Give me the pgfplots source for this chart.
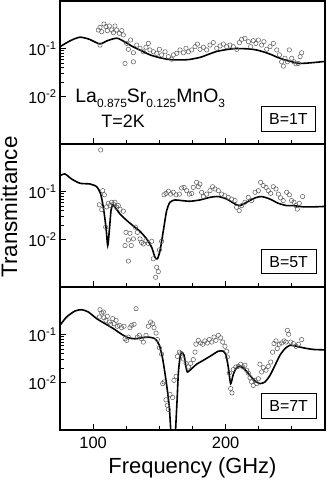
\documentclass[border=0pt]{standalone}
\usepackage{fontspec}
\setmainfont{Liberation Sans}
\usepackage{pgfplots}
\pgfplotsset{compat=1.18}

\pgfplotsset{
  tpanel/.style={
    scale only axis, width=265bp, height=143bp,
    xmin=75, xmax=275, ymin=0.001, ymax=1,
    axis line style={line width=1.2bp},
    tick align=inside, xtick pos=left, ytick pos=left,
    xtick={100,200}, minor xtick={125,150,175,225,250},
    xticklabels={}, major tick length=6bp, minor tick length=4bp,
    tick style={line width=0.9bp, black},
    ytick={0.01,0.1}, minor ytick={},
    yticklabels={10\textsuperscript{-2},10\textsuperscript{-1}},
    yticklabel style={font=\fontsize{16}{16}\selectfont},
  },
}
\tikzset{
  tpts/.style={only marks, mark=o, mark size=2.2bp,
    mark options={draw=black!65, fill=white, line width=0.5bp}},
  tfit/.style={no marks, black, line width=1.6bp, smooth, tension=0.4},
  tlbl/.style={draw=black, line width=0.7bp, fill=white, inner xsep=8bp,
    inner ysep=6.5bp, text height=11.5bp, text depth=0bp,
    font=\fontsize{16}{16}\selectfont},
}

\begin{document}
\begin{tikzpicture}
% B = 1 T
\begin{semilogyaxis}[tpanel, name=p1]
\addplot[tpts] coordinates {
(103.9,0.246) (105.2,0.280) (106.5,0.227) (108.2,0.329) (109.7,0.290) (110.7,0.239)
(112.2,0.299) (114.0,0.246) (115.3,0.217) (116.5,0.299) (117.8,0.246) (119.8,0.210)
(121.6,0.239) (122.8,0.194) (105.2,0.119) (124.1,0.049) (130.4,0.053) (125.3,0.129)
(126.6,0.097) (128.3,0.152) (130.4,0.082) (132.9,0.119) (135.4,0.102) (137.9,0.086)
(139.9,0.107) (141.7,0.129) (142.9,0.094) (145.5,0.086) (148.0,0.080) (150.0,0.097)
(151.7,0.074) (154.3,0.086) (156.8,0.068) (159.3,0.060) (160.6,0.074) (163.1,0.080)
(165.6,0.094) (168.1,0.082) (170.1,0.102) (171.9,0.086) (174.4,0.094) (176.9,0.110)
(178.7,0.125) (180.7,0.097) (183.2,0.107) (185.7,0.094) (188.2,0.119) (190.7,0.134)
(193.3,0.102) (195.8,0.114) (198.3,0.125) (200.8,0.110) (203.3,0.119) (205.8,0.110)
(208.4,0.097) (210.4,0.134) (212.1,0.157) (214.6,0.165) (217.2,0.140) (218.9,0.110)
(220.9,0.147) (222.9,0.129) (224.7,0.152) (227.2,0.119) (228.9,0.140) (231.0,0.097)
(233.5,0.110) (236.0,0.129) (238.6,0.094) (240.6,0.074) (242.3,0.053) (243.6,0.043)
(244.8,0.063) (246.6,0.053) (248.1,0.094) (249.9,0.063) (251.6,0.053) (253.1,0.048)
(254.9,0.049) (256.2,0.068) (257.4,0.082)
};
\addplot[tfit] coordinates {
(75,0.110) (83,0.148) (90,0.174) (97,0.158) (105,0.126) (111,0.148) (118,0.166)
(124,0.138) (130,0.110) (137,0.089) (143,0.074) (150,0.065) (156,0.060) (163,0.058)
(172,0.059) (181,0.066) (187,0.076) (193,0.087) (200,0.095) (206,0.100) (213,0.100)
(219,0.098) (224,0.093) (229,0.085) (234,0.076) (239,0.066) (244,0.059) (249,0.054)
(256,0.049) (266,0.051) (275,0.054)
};
\node[anchor=base west, font=\fontsize{19.5}{19.5}\selectfont] at (axis description cs:0.045,0.287)
  {La\raisebox{-5bp}{\fontsize{12}{12}\selectfont 0.875}Sr\raisebox{-5bp}{\fontsize{12}{12}\selectfont 0.125}MnO\raisebox{-5bp}{\fontsize{12}{12}\selectfont 3}};
\node[font=\fontsize{18}{18}\selectfont] at (axis description cs:0.238,0.161) {T=2K};
\node[tlbl] at (axis description cs:0.862,0.175) {B=1T};
\end{semilogyaxis}

% B = 5 T
\begin{semilogyaxis}[tpanel, name=p2, at={(p1.south west)}, anchor=north west,
  ylabel={Transmittance},
  ylabel style={at={(axis description cs:-0.192,0.56)}, anchor=center,
    font=\fontsize{22.5}{22.5}\selectfont}]
\addplot[tpts] coordinates {
(105.7,0.75) (107.2,0.105) (108.5,0.086) (104.7,0.053) (106.5,0.042) (109.5,0.018)
(110.2,0.048) (111.5,0.057) (112.7,0.051) (114.0,0.060) (115.3,0.055) (116.5,0.060)
(117.8,0.047) (119.0,0.051) (120.3,0.043) (122.8,0.039) (124.8,0.014) (127.8,0.0134)
(124.1,0.0074) (126.6,0.0097) (128.8,0.0074) (126.6,0.0035) (130.4,0.0102) (131.9,0.018)
(133.4,0.014) (135.4,0.0102) (136.6,0.0086) (137.9,0.0080) (139.9,0.0094) (141.7,0.0082)
(144.2,0.0091) (145.4,0.0039) (148.0,0.0026) (149.2,0.0021) (147.2,0.0016) (150.0,0.0060)
(151.7,0.0091) (153.5,0.086) (155.0,0.092) (156.8,0.102) (158.5,0.089) (160.5,0.097)
(162.6,0.086) (165.1,0.089) (166.8,0.119) (168.6,0.123) (170.6,0.105) (172.6,0.089)
(174.4,0.092) (175.6,0.123) (178.1,0.157) (179.4,0.127) (180.6,0.145) (181.9,0.097)
(183.2,0.079) (185.7,0.089) (188.2,0.105) (190.2,0.127) (192.0,0.114) (194.5,0.105)
(197.0,0.089) (199.5,0.082) (202.0,0.076) (204.5,0.070) (207.1,0.065) (208.3,0.047)
(210.3,0.040) (212.1,0.051) (214.6,0.060) (217.1,0.076) (219.6,0.065) (222.2,0.097)
(224.7,0.105) (226.4,0.157) (228.4,0.134) (230.5,0.123) (232.2,0.105) (234.0,0.092)
(236.0,0.127) (238.0,0.114) (239.8,0.089) (241.5,0.074) (243.5,0.065) (246.1,0.097)
(248.1,0.086) (249.8,0.065) (251.6,0.060) (253.1,0.051) (254.1,0.043) (255.6,0.057)
(258.1,0.079)
};
\addplot[tfit] coordinates {
(75,0.217) (78.8,0.235) (83.8,0.184) (90.1,0.150) (97.6,0.145) (102.7,0.127)
(105.7,0.089) (107.7,0.047) (109.7,0.018) (111.0,0.0074) (112.2,0.015) (113.5,0.040)
(114.8,0.053) (116.5,0.047) (120.3,0.034) (125.3,0.025) (130.4,0.019) (135.4,0.0147)
(140.4,0.0102) (144.2,0.0068) (146.7,0.0042) (148.5,0.0039) (150.5,0.0058) (153.0,0.0152)
(155.5,0.040) (158.0,0.060) (161.8,0.067) (166.8,0.065) (173.1,0.063) (180.6,0.067)
(188.2,0.076) (194.5,0.079) (200.8,0.070) (207.1,0.055) (210.8,0.051) (215.9,0.060)
(222.2,0.074) (227.2,0.079) (233.5,0.070) (239.8,0.057) (246.1,0.051) (251.1,0.051)
(258.6,0.048) (266.2,0.048) (275,0.049)
};
\node[tlbl] at (axis description cs:0.863,0.178) {B=5T};
\end{semilogyaxis}

% B = 7 T
\begin{semilogyaxis}[tpanel, name=p3, at={(p2.south west)}, anchor=north west,
  xticklabels={100,200},
  xticklabel style={font=\fontsize{16.5}{16.5}\selectfont, yshift=-3bp},
  xlabel={Frequency (GHz)},
  xlabel style={at={(axis description cs:0.5,-0.266)}, anchor=center,
    font=\fontsize{22}{22}\selectfont}]
\addplot[tpts] coordinates {
(105.2,0.334) (106.5,0.285) (104.7,0.235) (107.7,0.299) (108.2,0.227) (109.7,0.200)
(110.7,0.243) (112.2,0.184) (113.2,0.165) (114.8,0.217) (115.8,0.170) (117.3,0.200)
(118.3,0.150) (119.8,0.157) (121.5,0.140) (123.3,0.150) (124.1,0.082) (125.3,0.076)
(126.6,0.089) (127.8,0.140) (129.1,0.157) (130.9,0.165) (132.4,0.351) (133.4,0.089)
(134.9,0.097) (136.6,0.082) (137.9,0.070) (139.9,0.097) (141.7,0.150) (143.4,0.184)
(144.9,0.170) (146.0,0.140) (147.5,0.108) (148.5,0.079) (150.0,0.053) (151.7,0.039)
(152.5,0.0094) (153.5,0.0102) (155.0,0.0043) (156.0,0.0033) (156.8,0.0027) (158.0,0.0056)
(160.0,0.0048) (161.0,0.0110) (162.6,0.0134) (163.6,0.035) (165.1,0.043) (166.1,0.040)
(168.1,0.031) (170.1,0.025) (171.9,0.021) (173.6,0.025) (175.6,0.030) (176.9,0.043)
(177.6,0.063) (179.4,0.076) (181.1,0.067) (182.7,0.063) (184.4,0.074) (186.2,0.067)
(187.7,0.079) (189.5,0.070) (191.2,0.089) (192.7,0.076) (194.5,0.097) (196.3,0.086)
(197.8,0.070) (199.5,0.057) (200.8,0.045) (201.3,0.034) (202.8,0.0157) (203.8,0.0074)
(204.8,0.0060) (205.8,0.0185) (207.8,0.021) (209.6,0.0217) (211.3,0.024) (212.9,0.021)
(214.6,0.0228) (215.9,0.018) (217.1,0.0157) (218.4,0.0125) (219.6,0.0102) (220.9,0.0086)
(222.2,0.011) (223.4,0.0094) (224.7,0.0119) (225.9,0.024) (227.2,0.0165) (228.5,0.0203)
(230.5,0.018) (232.2,0.0217) (234.0,0.0267) (235.5,0.043) (236.5,0.065) (238.0,0.074)
(239.0,0.051) (240.5,0.063) (242.3,0.067) (244.1,0.074) (245.6,0.070) (246.6,0.123)
(247.6,0.102) (249.1,0.070) (251.1,0.065) (253.1,0.057) (254.9,0.063) (257.4,0.079)
};
\addplot[tfit] coordinates {
(75,0.157) (80.0,0.235) (86.3,0.314) (91.4,0.334) (96.4,0.299) (102.7,0.217)
(109.0,0.170) (115.3,0.134) (121.5,0.102) (126.6,0.086) (131.6,0.082) (136.6,0.086)
(141.7,0.089) (146.7,0.082) (150.0,0.060) (152.5,0.031) (155.0,0.011) (157.5,0.0030)
(160.5,0.0002) (163.1,0.0030) (164.3,0.0152) (165.6,0.034) (166.8,0.043) (168.6,0.037)
(170.1,0.021) (171.1,0.0165) (173.1,0.018) (178.1,0.024) (183.2,0.029) (189.5,0.037)
(194.5,0.045) (198.3,0.045) (200.3,0.037) (202.0,0.021) (203.8,0.0094) (205.8,0.0147)
(208.3,0.0203) (211.3,0.0217) (214.6,0.0185) (218.4,0.014) (222.2,0.0107) (225.9,0.0094)
(229.7,0.0102) (233.5,0.014) (237.3,0.0228) (241.0,0.037) (244.8,0.051) (248.6,0.060)
(253.6,0.057) (258.6,0.053) (266.2,0.049) (275,0.048)
};
\node[tlbl] at (axis description cs:0.863,0.168) {B=7T};
\end{semilogyaxis}

\pgfresetboundingbox
\path ([xshift=-60bp,yshift=1bp]p1.north west) rectangle ([xshift=2bp,yshift=-54bp]p3.south east);
\end{tikzpicture}
\end{document}
